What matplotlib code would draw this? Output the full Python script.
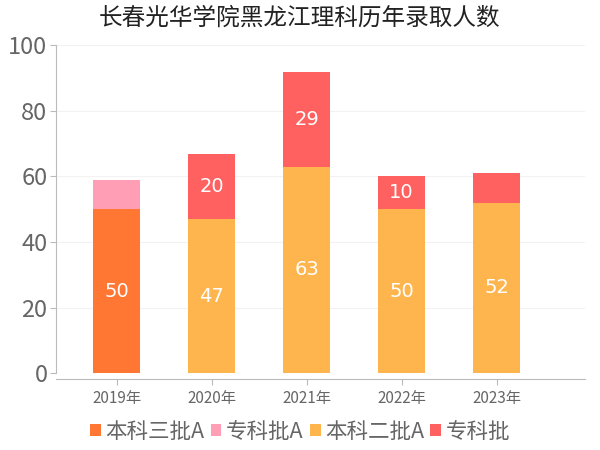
import matplotlib
matplotlib.use("Agg")
import matplotlib.pyplot as plt
import numpy as np

plt.rcParams['font.family'] = ['Noto Sans CJK SC', 'DejaVu Sans']

years = ["2019年", "2020年", "2021年", "2022年", "2023年"]
series_names = ["本科三批A", "专科批A", "本科二批A", "专科批"]
ben3A = [50, 0, 0, 0, 0]
zhuanA = [9, 0, 0, 0, 0]
ben2A = [0, 47, 63, 50, 52]
zhuan = [0, 20, 29, 10, 9]
colors = ["#FF7733", "#FF9EB5", "#FFB54D", "#FF6161"]
title = "长春光华学院黑龙江理科历年录取人数"

fig = plt.figure(figsize=(6, 4.5), dpi=100)
ax = fig.add_axes([0.093, 0.171, 0.882, 0.728])

x = np.arange(len(years))
width = 0.5
stacks = [ben3A, zhuanA, ben2A, zhuan]
bottom = np.zeros(len(years))
handles = []
for vals, col, name in zip(stacks, colors, series_names):
    vals = np.array(vals, dtype=float)
    bars = ax.bar(x, vals, width, bottom=bottom, color=col, label=name, zorder=3)
    for xi, v, b in zip(x, vals, bottom):
        if v >= 10:
            ax.text(xi, b + v / 2, f"{int(v)}", ha="center", va="center",
                    color="white", fontsize=14, family="DejaVu Sans", zorder=4)
    bottom += vals
    handles.append(bars)

ax.set_ylim(0, 100)
ax.set_xlim(-0.64, 4.93)
ax.set_yticks([0, 20, 40, 60, 80, 100])
ax.set_xticks(x)
ax.set_xticklabels(years)
ax.tick_params(axis='y', labelsize=17, colors="#666666", length=4, color="#bbbbbb", pad=2)
ax.tick_params(axis='x', labelsize=11, colors="#666666", length=4, color="#bbbbbb", pad=4)
ax.grid(axis='y', color="#f2f2f2", linewidth=0.8, zorder=0)
for s in ["top", "right"]:
    ax.spines[s].set_visible(False)
ax.spines["left"].set_color("#bbbbbb")
ax.spines["bottom"].set_color("#bbbbbb")
ax.spines["bottom"].set_position(("outward", 4))

fig.suptitle(title, x=0.5, y=0.985, fontsize=17, color="#222222")

leg = fig.legend(handles=handles, labels=series_names, loc="center",
                 bbox_to_anchor=(0.5, 0.04), ncol=4, frameon=False,
                 fontsize=15.5, handlelength=0.5, handleheight=0.5,
                 handletextpad=0.2, columnspacing=0.3, labelcolor="#666666")

fig.savefig("out.png", dpi=100)
